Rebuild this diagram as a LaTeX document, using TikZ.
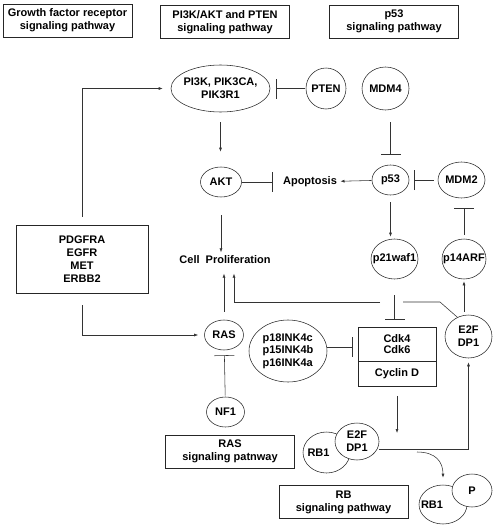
\documentclass[tikz,border=0pt]{standalone}
\usepackage{fontspec}
\setmainfont{Liberation Sans}
\usepackage{tikz}
\usetikzlibrary{shapes.geometric, arrows.meta}

\begin{document}
\begin{tikzpicture}[x=1pt, y=-1pt, line width=0.55pt,
        font=\fontsize{11}{13}\selectfont\bfseries,
        gene/.style={ellipse, draw=black!85, inner xsep=-8pt, inner ysep=-3pt, align=center},
        pathway/.style={draw=black!85, align=center, minimum width=129pt, minimum height=33pt},
        act/.style={draw=black!80, -{Latex[length=4pt, width=3pt]}},
        inh/.style={draw=black!80, -{Bar[width=20pt]}}]
        \useasboundingbox (0,0) rectangle (495,530);

        \node[pathway] (gfpath)  at (67.5,20.5) {Growth factor receptor\\signaling pathway};
        \node[pathway] (pipath)  at (225,22)    {PI3K/AKT and PTEN\\signaling pathway};
        \node[pathway] (p53path) at (394,21.5)  {p53\\signaling pathway};
        \node[pathway] (raspath) at (230,451.5) {RAS\\signaling patnway};
        \node[pathway] (rbpath)  at (343.5,502) {RB\\signaling pathway};

        \node[draw=black!85, align=center, minimum width=132pt, minimum height=68pt] (rtk) at (82,259) {PDGFRA\\EGFR\\MET\\ERBB2};

        \node[gene, minimum width=99pt, minimum height=47pt] (pi3k) at (220.5,88.5) {PI3K, PIK3CA,\\PIK3R1};
        \node[gene, minimum width=40pt, minimum height=41pt] (pten) at (326,88.5)   {PTEN};
        \node[gene, minimum width=47pt, minimum height=43pt] (mdm4) at (385.5,88.5) {MDM4};
        \node[gene, minimum width=41pt, minimum height=30pt] (akt)  at (221,182)    {AKT};
        \node[gene, minimum width=37pt, minimum height=30pt] (p53)  at (390.5,180)  {p53};
        \node[gene, minimum width=47pt, minimum height=36pt] (mdm2) at (461.5,180)  {MDM2};
        \node[gene, minimum width=47pt, minimum height=40pt] (p21)  at (394.5,259)  {p21waf1};
        \node[gene, minimum width=44pt, minimum height=40pt] (p14)  at (464,259)    {p14ARF};
        \node[gene, minimum width=47pt, minimum height=43pt] (e2f)  at (468.5,336.5) {E2F\\DP1};
        \node[gene, minimum width=39pt, minimum height=30pt] (ras)  at (224,335)    {RAS};
        \node[gene, minimum width=78pt, minimum height=62pt, align=left,
              font=\fontsize{11}{12.5}\selectfont\bfseries] (pink) at (288,351) {p18INK4c\\p15INK4b\\p16INK4a};
        \node[gene, minimum width=38pt, minimum height=30pt] (nf1)  at (225.5,412)  {NF1};

        \node[gene, minimum width=47pt, minimum height=41pt] (rb1a) at (326.5,452.5) {RB1\hspace*{16pt}};
        \node[gene, fill=white, minimum width=44pt, minimum height=37pt] (e2fb) at (357,441.5) {E2F\\DP1};
        \node[gene, minimum width=48pt, minimum height=39pt] (rb1b) at (443,504.5) {RB1\hspace*{22pt}};
        \node[gene, fill=white, minimum width=40pt, minimum height=33pt] (pp) at (472,490.5) {P};

        \node[draw=black!85, align=center, minimum width=78pt, minimum height=34pt,
              font=\fontsize{11}{11.5}\selectfont\bfseries] (cdk) at (397,344) {Cdk4\\Cdk6};
        \node[draw=black!85, minimum width=78pt, minimum height=25pt, anchor=north] (cyc) at (cdk.south) {Cyclin D};

        \node (apop)   at (310,182) {Apoptosis};
        \node (prolif) at (225,260) {Cell\ \ Proliferation};

        \coordinate (gapr) at (403,302);
        \coordinate (gapl) at (380,302);
        \coordinate (cdkout) at (397,433);
        \coordinate (rbout) at (417,452);

        \draw[act, shorten <=8pt, shorten >=8pt] (rtk.north) |- (pi3k.west);
        \draw[act, shorten <=12pt, shorten >=6pt] (rtk.south) |- (ras.west);
        \draw[act, shorten <=10pt, shorten >=15pt] (pi3k.south) -- (pi3k.south |- akt.north);
        \draw[inh, shorten <=1pt, shorten >=6pt] (pten) -- (pi3k);
        \draw[inh, shorten <=12pt, shorten >=10pt] (mdm4.south -| p53.north) -- (p53.north);
        \draw[inh, shorten >=7pt] (akt) -- (apop);
        \draw[act] (p53) -- (apop);
        \draw[inh, shorten <=4pt, shorten >=5pt] (mdm2) -- (p53);
        \draw[act, shorten <=7pt, shorten >=2pt] (p53.south) -- (p53.south |- p21.north);
        \draw[inh, shorten <=4pt, shorten >=10pt] (p14.north) -- (p14.north |- mdm2.south);
        \draw[act, shorten <=18pt] (akt.south) -- (akt.south |- prolif.north);
        \draw[act, shorten <=8pt, shorten >=6pt] (ras.north) -- (ras.north |- prolif.south);
        \draw[draw=black!80] (e2f.120) -- (440,302) -- (gapr);
        \draw[act, shorten >=6pt] (gapl) -| ([xshift=9pt]prolif.south);
        \draw[act, shorten <=3pt, shorten >=2pt] (p14.south |- e2f.north) -- (p14.south);
        \draw[inh, shorten <=16pt, shorten >=7pt] (p21.south) -- (p21.south |- cdk.north);
        \draw[inh, shorten >=5pt] ([yshift=4pt]pink.east) -- ([yshift=4pt]pink.east -| cdk.west);
        \draw[inh, shorten <=1pt, shorten >=5pt] (nf1) -- (ras);
        \draw[act, shorten <=9pt] (cyc.south) -- (cdkout);
        \draw[act, shorten >=4pt] ([yshift=-7.5pt]e2fb.east) -| (e2f.south);
        \draw[act, shorten >=7pt] (rbout) .. controls (436,452) and (443,462) .. (rb1b.north);

    \end{tikzpicture}
\end{document}
